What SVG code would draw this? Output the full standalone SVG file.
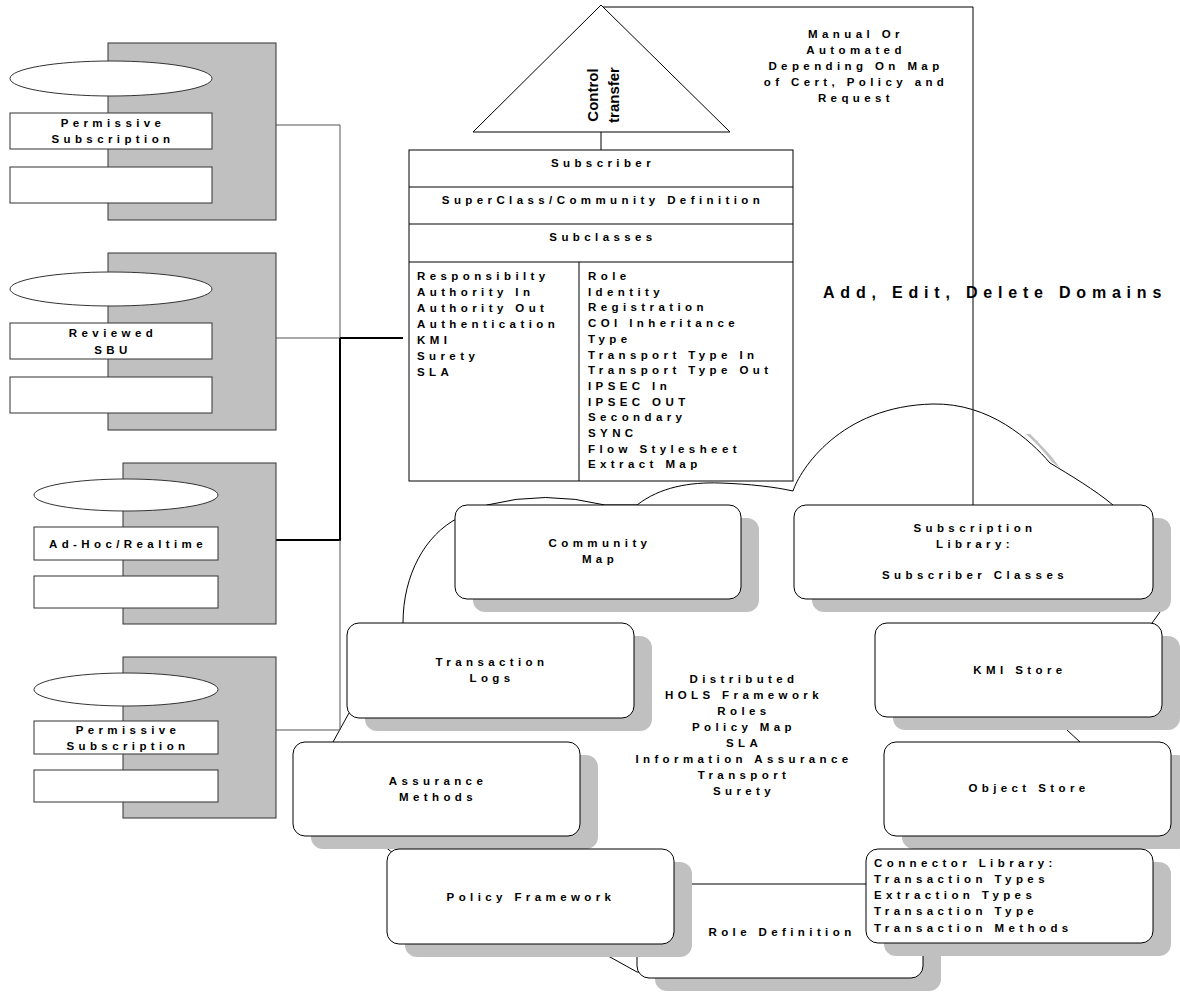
<svg xmlns="http://www.w3.org/2000/svg" width="1180" height="994" viewBox="0 0 1180 994">
<style>
.t{font-family:"Liberation Sans",Arial,sans-serif;font-weight:bold;font-size:11.5px;letter-spacing:4.4px;fill:#000}
.m{text-anchor:middle}
.big{font-size:16px;letter-spacing:5.8px}
.ct{font-family:"Liberation Sans",Arial,sans-serif;font-weight:bold;font-size:15px;fill:#000;text-anchor:middle}
.ln{fill:none;stroke:#000;stroke-width:1}
.lg{fill:none;stroke:#555;stroke-width:1}
.th{fill:none;stroke:#000;stroke-width:2}
.gray{fill:#c0c0c0;stroke:#333;stroke-width:1}
.wb{fill:#fff;stroke:#333;stroke-width:1}
.sh{fill:#c0c0c0;stroke:none}
.rb{fill:#fff;stroke:#000;stroke-width:1}
</style>

<g id="cloud">
<path class="sh" d="M1026,434 C1038,445 1047,455 1052,462 L1060,468 C1052,456 1040,444 1030,434 Z"/>
<path class="rb" d="M637,972 L610,957 C520,910 400,880 360,820 C340,790 335,760 333,742 L349,713 C375,690 402,660 403,623 C403,575 425,535 458,518 L487,505 Q545,490 605,505 L637,505 C660,487 690,482 720,483 C750,484 775,487 793,491 C800,470 840,406 933,404 C990,403 1030,440 1050,463 C1070,475 1095,490 1113,505 L1140,560 L1160,612 L1152,623 L1100,690 L1067,730 L1080,742 L1130,800 L1120,880 L900,950 L700,975 Z"/>
</g>

<g id="connectors">
<path class="lg" d="M276,125 H340 V338"/>
<path class="lg" d="M276,338 H340"/>
<path class="th" d="M340,338 H403 M340,338 V540 H276"/>
<path class="lg" d="M340,540 V730 H276"/>
<path class="ln" d="M601,132 V150"/>
<path class="ln" d="M601,7 H973 V505"/>
</g>

<g id="comp1">
<rect class="gray" x="108" y="43" width="168" height="177"/>
<ellipse class="wb" cx="111" cy="78.5" rx="101" ry="17.5"/>
<rect class="wb" x="10" y="113" width="202" height="36"/>
<rect class="wb" x="10" y="167" width="202" height="36"/>
<text class="t m" x="113" y="127">Permissive</text>
<text class="t m" x="113" y="143">Subscription</text>
</g>
<g id="comp2">
<rect class="gray" x="108" y="253" width="168" height="177"/>
<ellipse class="wb" cx="111" cy="289" rx="101" ry="17"/>
<rect class="wb" x="10" y="323" width="202" height="36"/>
<rect class="wb" x="10" y="377" width="202" height="36"/>
<text class="t m" x="113" y="337">Reviewed</text>
<text class="t m" x="113" y="354">SBU</text>
</g>
<g id="comp3">
<rect class="gray" x="123" y="463" width="153" height="161"/>
<ellipse class="wb" cx="126" cy="495" rx="92" ry="16"/>
<rect class="wb" x="34" y="527" width="184" height="33"/>
<rect class="wb" x="34" y="576" width="184" height="32"/>
<text class="t m" x="128" y="548">Ad-Hoc/Realtime</text>
</g>
<g id="comp4">
<rect class="gray" x="123" y="657" width="153" height="161"/>
<ellipse class="wb" cx="126" cy="689.5" rx="92" ry="16.5"/>
<rect class="wb" x="34" y="721" width="184" height="33"/>
<rect class="wb" x="34" y="770" width="184" height="32"/>
<text class="t m" x="128" y="734">Permissive</text>
<text class="t m" x="128" y="750">Subscription</text>
</g>

<g id="control">
<polygon class="rb" points="601,5 730,132 473,132"/>
<text class="ct" transform="translate(598,95) rotate(-90)">Control</text>
<text class="ct" transform="translate(619,95) rotate(-90)">transfer</text>
</g>

<g id="subscriber">
<rect class="rb" x="409" y="150" width="384" height="331"/>
<path class="ln" d="M409,187 H793 M409,224 H793 M409,262 H793 M579,262 V481"/>
<text class="t m" x="603" y="167">Subscriber</text>
<text class="t m" x="603" y="204">SuperClass/Community Definition</text>
<text class="t m" x="603" y="241">Subclasses</text>
<text class="t" x="417" y="280">Responsibilty</text>
<text class="t" x="417" y="296">Authority In</text>
<text class="t" x="417" y="312">Authority Out</text>
<text class="t" x="417" y="328">Authentication</text>
<text class="t" x="417" y="344">KMI</text>
<text class="t" x="417" y="360">Surety</text>
<text class="t" x="417" y="376">SLA</text>
<text class="t" x="588" y="280">Role</text>
<text class="t" x="588" y="295.7">Identity</text>
<text class="t" x="588" y="311.4">Registration</text>
<text class="t" x="588" y="327.1">COI Inheritance</text>
<text class="t" x="588" y="342.8">Type</text>
<text class="t" x="588" y="358.5">Transport Type In</text>
<text class="t" x="588" y="374.2">Transport Type Out</text>
<text class="t" x="588" y="389.9">IPSEC In</text>
<text class="t" x="588" y="405.6">IPSEC OUT</text>
<text class="t" x="588" y="421.3">Secondary</text>
<text class="t" x="588" y="437">SYNC</text>
<text class="t" x="588" y="452.7">Flow Stylesheet</text>
<text class="t" x="588" y="468.4">Extract Map</text>
</g>

<g id="manual">
<text class="t m" x="856" y="38">Manual Or</text>
<text class="t m" x="856" y="54">Automated</text>
<text class="t m" x="856" y="70">Depending On Map</text>
<text class="t m" x="856" y="86">of Cert, Policy and</text>
<text class="t m" x="856" y="102">Request</text>
</g>
<g id="domains">
<text class="t big" x="823" y="298">Add, Edit, Delete Domains</text>
</g>

<g id="framework">
<text class="t m" x="744" y="683">Distributed</text>
<text class="t m" x="744" y="699">HOLS Framework</text>
<text class="t m" x="744" y="715">Roles</text>
<text class="t m" x="744" y="731">Policy Map</text>
<text class="t m" x="744" y="747">SLA</text>
<text class="t m" x="744" y="763">Information Assurance</text>
<text class="t m" x="744" y="779">Transport</text>
<text class="t m" x="744" y="795">Surety</text>
</g>

<g id="roledef">
<rect class="sh" x="655" y="897" width="286" height="94" rx="12"/>
<rect class="rb" x="637" y="884" width="286" height="94" rx="12"/>
<text class="t m" x="782" y="936">Role Definition</text>
</g>

<g id="community">
<rect class="sh" x="473" y="518" width="286" height="94" rx="12"/>
<rect class="rb" x="455" y="505" width="286" height="94" rx="12"/>
<text class="t m" x="600" y="547">Community</text>
<text class="t m" x="600" y="563">Map</text>
</g>
<g id="sublib">
<rect class="sh" x="812" y="518" width="359" height="94" rx="12"/>
<rect class="rb" x="794" y="505" width="359" height="94" rx="12"/>
<text class="t m" x="975" y="532">Subscription</text>
<text class="t m" x="975" y="548">Library:</text>
<text class="t m" x="975" y="579">Subscriber Classes</text>
</g>
<g id="translogs">
<rect class="sh" x="365" y="636" width="287" height="95" rx="12"/>
<rect class="rb" x="347" y="623" width="287" height="95" rx="12"/>
<text class="t m" x="492" y="666">Transaction</text>
<text class="t m" x="492" y="682">Logs</text>
</g>
<g id="kmi">
<rect class="sh" x="893" y="636" width="287" height="94" rx="12"/>
<rect class="rb" x="875" y="623" width="287" height="94" rx="12"/>
<text class="t m" x="1020" y="674">KMI Store</text>
</g>
<g id="assurance">
<rect class="sh" x="311" y="755" width="287" height="94" rx="12"/>
<rect class="rb" x="293" y="742" width="287" height="94" rx="12"/>
<text class="t m" x="438" y="785">Assurance</text>
<text class="t m" x="438" y="801">Methods</text>
</g>
<g id="objectstore">
<rect class="sh" x="902" y="755" width="287" height="94" rx="12"/>
<rect class="rb" x="884" y="742" width="287" height="94" rx="12"/>
<text class="t m" x="1029" y="792">Object Store</text>
</g>
<g id="policy">
<rect class="sh" x="405" y="862" width="287" height="95" rx="12"/>
<rect class="rb" x="387" y="849" width="287" height="95" rx="12"/>
<text class="t m" x="531" y="901">Policy Framework</text>
</g>
<g id="connlib">
<rect class="sh" x="884" y="862" width="287" height="94" rx="12"/>
<rect class="rb" x="866" y="849" width="287" height="94" rx="12"/>
<text class="t" x="874" y="867">Connector Library:</text>
<text class="t" x="874" y="883">Transaction Types</text>
<text class="t" x="874" y="899">Extraction Types</text>
<text class="t" x="874" y="915">Transaction Type</text>
<text class="t" x="874" y="932">Transaction Methods</text>
</g>
</svg>
